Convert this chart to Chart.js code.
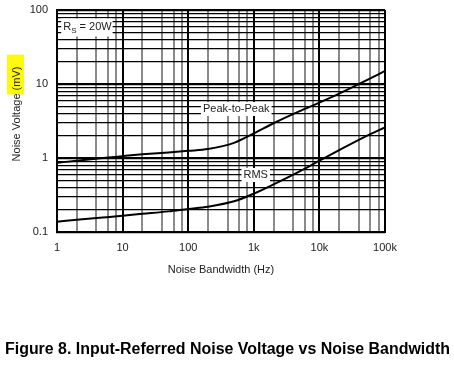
<!DOCTYPE html>
<html>
<head>
<meta charset="utf-8">
<script src="https://cdn.jsdelivr.net/npm/chart.js@4"></script>
<style>
  html, body { margin: 0; padding: 0; background: #fff; }
  #wrap { width: 454px; height: 366px; }
</style>
</head>
<body>
<div id="wrap"><canvas id="noise" width="454" height="366"></canvas></div>
<script>
// values
const bandwidth = [1, 2, 5, 10, 20, 50, 100, 200, 500, 1000, 2000, 5000, 10000, 20000, 50000, 100000]
const peakToPeak = [0.86, 0.92, 1.0, 1.06, 1.12, 1.19, 1.25, 1.32, 1.6, 2.15, 2.95, 4.3, 5.6, 7.4, 11, 15]
const rms = [0.138, 0.146, 0.157, 0.166, 0.176, 0.19, 0.205, 0.22, 0.26, 0.33, 0.44, 0.66, 0.92, 1.28, 1.95, 2.6]
const xTickLabels = ['1', '10', '100', '1k', '10k', '100k']
const yTickLabels = ['0.1', '1', '10', '100']

const FONT = '"Liberation Sans", Arial, sans-serif'

function isDecade(v) {
    var l = Math.log10(v)
    return Math.abs(l - Math.round(l)) < 1e-6
}

function xTicks() {
    var t = []
    for (var d = 0; d < 5; d++) {
        [1, 2, 4, 6, 8].forEach(m => t.push({ value: m * Math.pow(10, d) }))
    }
    t.push({ value: 100000 })
    return t
}

function yTicks() {
    var t = []
    for (var d = -1; d < 2; d++) {
        for (var m = 1; m < 10; m++) t.push({ value: m * Math.pow(10, d) })
    }
    t.push({ value: 100 })
    return t
}

const labelPlugin = {
    id: 'labels',
    afterDatasetsDraw(chart) {
        const ctx = chart.ctx
        const x = chart.scales.x
        const y = chart.scales.y
        ctx.save()
        ctx.font = '11px ' + FONT
        ctx.textBaseline = 'middle'

        function boxed(text, fx, vy) {
            var w = ctx.measureText(text).width
            var cx = x.getPixelForValue(fx)
            var cy = y.getPixelForValue(vy)
            ctx.fillStyle = '#fff'
            ctx.fillRect(cx - w / 2 - 2, cy - 7, w + 4, 14)
            ctx.fillStyle = '#222'
            ctx.textAlign = 'center'
            ctx.fillText(text, cx, cy)
        }
        boxed('Peak-to-Peak', 540, 4.6)
        boxed('RMS', 1070, 0.59)

        // R_S = 20W box
        var lx = x.getPixelForValue(1.2)
        var ly = y.getPixelForValue(58)
        ctx.textAlign = 'left'
        var w1 = ctx.measureText('R').width
        ctx.font = '8px ' + FONT
        var w2 = ctx.measureText('S').width
        ctx.font = '11px ' + FONT
        var w3 = ctx.measureText(' = 20W').width
        ctx.fillStyle = '#fff'
        ctx.fillRect(lx - 1, ly - 9, w1 + w2 + w3 + 3, 18)
        ctx.fillStyle = '#222'
        ctx.fillText('R', lx + 1, ly - 1)
        ctx.font = '8px ' + FONT
        ctx.fillText('S', lx + 1 + w1, ly + 3)
        ctx.font = '11px ' + FONT
        ctx.fillText(' = 20W', lx + 1 + w1 + w2, ly - 1)
        ctx.restore()
    },
    afterDraw(chart) {
        const ctx = chart.ctx
        const area = chart.chartArea
        ctx.save()
        // y axis title with highlighter mark
        ctx.font = '11px ' + FONT
        var title = 'Noise Voltage '
        var unit = '(mV)'
        var tw = ctx.measureText(title).width
        var uw = ctx.measureText(unit).width
        var cy = 114
        var start = cy + (tw + uw) / 2
        ctx.fillStyle = 'rgba(255, 250, 0, 0.95)'
        ctx.fillRect(7, start - tw - uw - 12, 17, uw + 16)
        ctx.translate(17, start)
        ctx.rotate(-Math.PI / 2)
        ctx.fillStyle = '#222'
        ctx.textBaseline = 'middle'
        ctx.textAlign = 'left'
        ctx.fillText(title + unit, 0, 0)
        ctx.restore()

        ctx.save()
        ctx.font = '11px ' + FONT
        ctx.fillStyle = '#222'
        ctx.textAlign = 'center'
        ctx.textBaseline = 'middle'
        ctx.fillText('Noise Bandwidth (Hz)', (area.left + area.right) / 2, 270)

        ctx.font = 'bold 16px ' + FONT
        ctx.fillStyle = '#000'
        ctx.textAlign = 'left'
        var cap = 'Figure 8. Input-Referred Noise Voltage vs Noise Bandwidth'
        var cw = ctx.measureText(cap).width
        ctx.translate(5, 350)
        ctx.scale(445 / cw, 1)
        ctx.fillText(cap, 0, 0)
        ctx.restore()
    }
}

const chart = new Chart(document.getElementById('noise'), {
    type: 'line',
    data: {
        labels: bandwidth,
        datasets: [{
            label: 'Peak-to-Peak',
            data: peakToPeak,
            borderColor: '#000',
            borderWidth: 2,
            pointRadius: 0,
            cubicInterpolationMode: 'monotone'
        }, {
            label: 'RMS',
            data: rms,
            borderColor: '#000',
            borderWidth: 2,
            pointRadius: 0,
            cubicInterpolationMode: 'monotone'
        }]
    },
    options: {
        responsive: false,
        animation: false,
        events: [],
        layout: { padding: { left: 0, right: 69, top: 10, bottom: 0 } },
        plugins: { legend: { display: false }, tooltip: { enabled: false } },
        scales: {
            x: {
                type: 'logarithmic',
                min: 1,
                max: 100000,
                afterBuildTicks: s => { s.ticks = xTicks() },
                afterFit: s => { s.height = 134; s.paddingLeft = 0; s.paddingRight = 0 },
                ticks: {
                    autoSkip: false,
                    maxRotation: 0,
                    padding: 9,
                    color: '#222',
                    font: { family: FONT, size: 11 },
                    callback: function (v) {
                        if (!isDecade(v)) return ''
                        return xTickLabels[Math.round(Math.log10(v))]
                    }
                },
                grid: {
                    drawTicks: false,
                    color: c => isDecade(c.tick.value) ? '#000' : '#8a8a8a',
                    lineWidth: 2
                },
                border: { color: '#000', width: 2 }
            },
            y: {
                type: 'logarithmic',
                min: 0.1,
                max: 100,
                afterBuildTicks: s => { s.ticks = yTicks() },
                afterFit: s => { s.width = 57; s.paddingTop = 0; s.paddingBottom = 0 },
                ticks: {
                    autoSkip: false,
                    padding: 9,
                    color: '#222',
                    font: { family: FONT, size: 11 },
                    callback: function (v) {
                        if (!isDecade(v)) return ''
                        return yTickLabels[Math.round(Math.log10(v)) + 1]
                    }
                },
                grid: {
                    drawTicks: false,
                    color: '#000',
                    lineWidth: c => isDecade(c.tick.value) ? 2.2 : 1.3
                },
                border: { color: '#000', width: 2 }
            }
        }
    },
    plugins: [labelPlugin]
})
</script>
</body>
</html>
